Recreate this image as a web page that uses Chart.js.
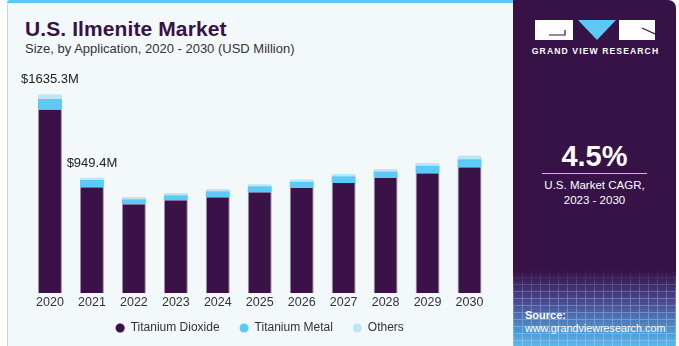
<!DOCTYPE html>
<html>
<head>
<meta charset="utf-8">
<script src="https://cdn.jsdelivr.net/npm/chart.js@4.4.1/dist/chart.umd.min.js"></script>
<style>
  html, body { margin:0; padding:0; width:679px; height:346px; overflow:hidden; background:#ffffff; font-family:"Liberation Sans", Arial, sans-serif; }
  #panel { position:absolute; left:7px; top:0; width:506px; height:346px; background:#f3f8fb; border-left:1px solid #cfd3d8; border-top-left-radius:6px; box-sizing:border-box; }
  #stripe { position:absolute; left:7px; top:0; width:506px; height:3px; background:#5cc8f5; border-top-left-radius:6px; }
  #title { position:absolute; left:25px; top:18px; font-size:21px; line-height:21px; font-weight:bold; color:#371246; white-space:nowrap; letter-spacing:0.1px; }
  #subtitle { position:absolute; left:25px; top:42px; font-size:13px; line-height:13px; color:#333; white-space:nowrap; }
  #chartBox { position:absolute; left:8px; top:0; width:505px; height:355px; }
  #side { position:absolute; left:513px; top:0; width:163px; height:346px; background:#371246; border-top-right-radius:8px; overflow:hidden; }
  #sideBottom { position:absolute; left:0; top:270px; width:163px; height:76px;
    background: linear-gradient(to bottom, rgba(55,18,70,1) 0%, rgba(72,70,140,1) 40%, rgba(78,150,210,1) 80%, rgba(90,185,235,1) 100%); }
  #grid { position:absolute; left:0; top:270px; width:163px; height:76px; opacity:0.35;
    background-image: repeating-linear-gradient(to right, rgba(200,230,255,0.9) 0 1px, transparent 1px 9px),
                      repeating-linear-gradient(to bottom, rgba(200,230,255,0.9) 0 1px, transparent 1px 7px);
    -webkit-mask-image: linear-gradient(to bottom, transparent 0%, black 35%, black 100%); mask-image: linear-gradient(to bottom, transparent 0%, black 35%, black 100%); }
  .st { position:absolute; color:#fff; white-space:nowrap; }
  #cagr { left:0; width:163px; text-align:center; top:142px; font-size:29px; line-height:29px; font-weight:bold; }
  #rule { position:absolute; left:29px; top:173px; width:105px; height:1px; background:#c9bcd2; }
  #c1 { left:0; width:163px; text-align:center; top:180px; font-size:11.5px; line-height:11.5px; }
  #c2 { left:0; width:163px; text-align:center; top:195px; font-size:11.5px; line-height:11.5px; }
  #src1 { left:12px; top:310px; font-size:11px; line-height:11px; font-weight:bold; }
  #src2 { left:12px; top:323px; font-size:10.8px; line-height:11px; }
  #logo { position:absolute; left:22px; top:20px; }
  #logoText { left:0; width:163px; text-align:center; top:47px; font-size:8.6px; line-height:9px; font-weight:bold; letter-spacing:1.1px; padding-left:1px; }
</style>
</head>
<body>
<div id="panel"></div>
<div id="stripe"></div>
<div id="title">U.S. Ilmenite Market</div>
<div id="subtitle">Size, by Application, 2020 - 2030 (USD Million)</div>
<div id="chartBox"><canvas id="chart"></canvas></div>
<div id="side">
  <div id="sideBottom"></div>
  <div id="grid"></div>
  <svg id="logo" width="120" height="21" viewBox="0 0 120 21">
    <rect x="0" y="0" width="38" height="20" fill="#ffffff"/>
    <path d="M14 15 L30 15 L30 10" stroke="#371246" stroke-width="1.2" fill="none"/>
    <polygon points="43,0 81,0 62,20" fill="#5cc8f5"/>
    <rect x="84" y="0" width="36" height="20" fill="#ffffff"/>
    <path d="M107 8 L120 14" stroke="#371246" stroke-width="1.2" fill="none"/>
  </svg>
  <div class="st" id="logoText">GRAND VIEW RESEARCH</div>
  <div class="st" id="cagr">4.5%</div>
  <div id="rule"></div>
  <div class="st" id="c1">U.S. Market CAGR,</div>
  <div class="st" id="c2">2023 - 2030</div>
  <div class="st" id="src1">Source:</div>
  <div class="st" id="src2">www.grandviewresearch.com</div>
</div>
<script>
const years = ["2020","2021","2022","2023","2024","2025","2026","2027","2028","2029","2030"];
const titaniumDioxide = [1510, 870, 730, 763, 788, 829, 864, 905, 947, 985, 1035];
const titaniumMetal   = [87, 60, 41, 41, 49, 49, 52, 55, 52, 63, 66];
const others          = [38.3, 19.4, 19, 19, 19, 17, 19, 19, 22, 22, 30];
const totalLabels     = ["$1635.3M", "$949.4M", "", "", "", "", "", "", "", "", ""];
const seriesNames     = ["Titanium Dioxide", "Titanium Metal", "Others"];

const FONT = '"Liberation Sans", Arial, sans-serif';

const totalLabelPlugin = {
  id: 'totalLabels',
  afterDatasetsDraw(chart) {
    const {ctx, scales} = chart;
    ctx.save();
    ctx.font = '13px ' + FONT;
    ctx.fillStyle = '#222222';
    ctx.textAlign = 'center';
    ctx.textBaseline = 'middle';
    totalLabels.forEach((lab, i) => {
      if (!lab) return;
      const total = titaniumDioxide[i] + titaniumMetal[i] + others[i];
      ctx.fillText(lab, scales.x.getPixelForValue(i), scales.y.getPixelForValue(total) - 14.5);
    });
    ctx.restore();
  }
};

const legendShift = {
  id: 'legendShift',
  afterLayout(chart) {
    if (chart.legend) { chart.legend.top -= 11; chart.legend.bottom -= 11; }
  }
};

new Chart(document.getElementById('chart'), {
  type: 'bar',
  data: {
    labels: years,
    datasets: [
      { label: seriesNames[0], data: titaniumDioxide, backgroundColor: '#3a1248', borderColor: 'rgba(120,100,140,0.7)', borderWidth: {left:1, right:1, top:0, bottom:0}, borderSkipped: false },
      { label: seriesNames[1], data: titaniumMetal, backgroundColor: '#5cc9f6', borderWidth: 0 },
      { label: seriesNames[2], data: others, backgroundColor: '#bae6f8', borderWidth: 0, borderRadius: {topLeft:2, topRight:2}, borderSkipped: 'bottom' }
    ]
  },
  options: {
    responsive: true,
    maintainAspectRatio: false,
    animation: false,
    layout: { padding: { top: 50, left: 21, right: 22.5, bottom: 0 } },
    datasets: { bar: { barPercentage: 0.57, categoryPercentage: 1.0 } },
    scales: {
      x: {
        stacked: true,
        grid: { display: false, drawTicks: false },
        border: { display: false },
        ticks: { color: '#333333', font: { family: FONT, size: 12.5 }, padding: 2.5, maxRotation: 0 }
      },
      y: { stacked: true, display: false, min: 0, max: 2000 }
    },
    plugins: {
      legend: {
        position: 'bottom',
        labels: {
          usePointStyle: true, pointStyle: 'circle',
          boxWidth: 9, boxHeight: 6.4, padding: 20,
          color: '#333333', font: { family: FONT, size: 12 }
        }
      },
      tooltip: { enabled: false },
      title: { display: false }
    }
  },
  plugins: [totalLabelPlugin, legendShift]
});
</script>
</body>
</html>
